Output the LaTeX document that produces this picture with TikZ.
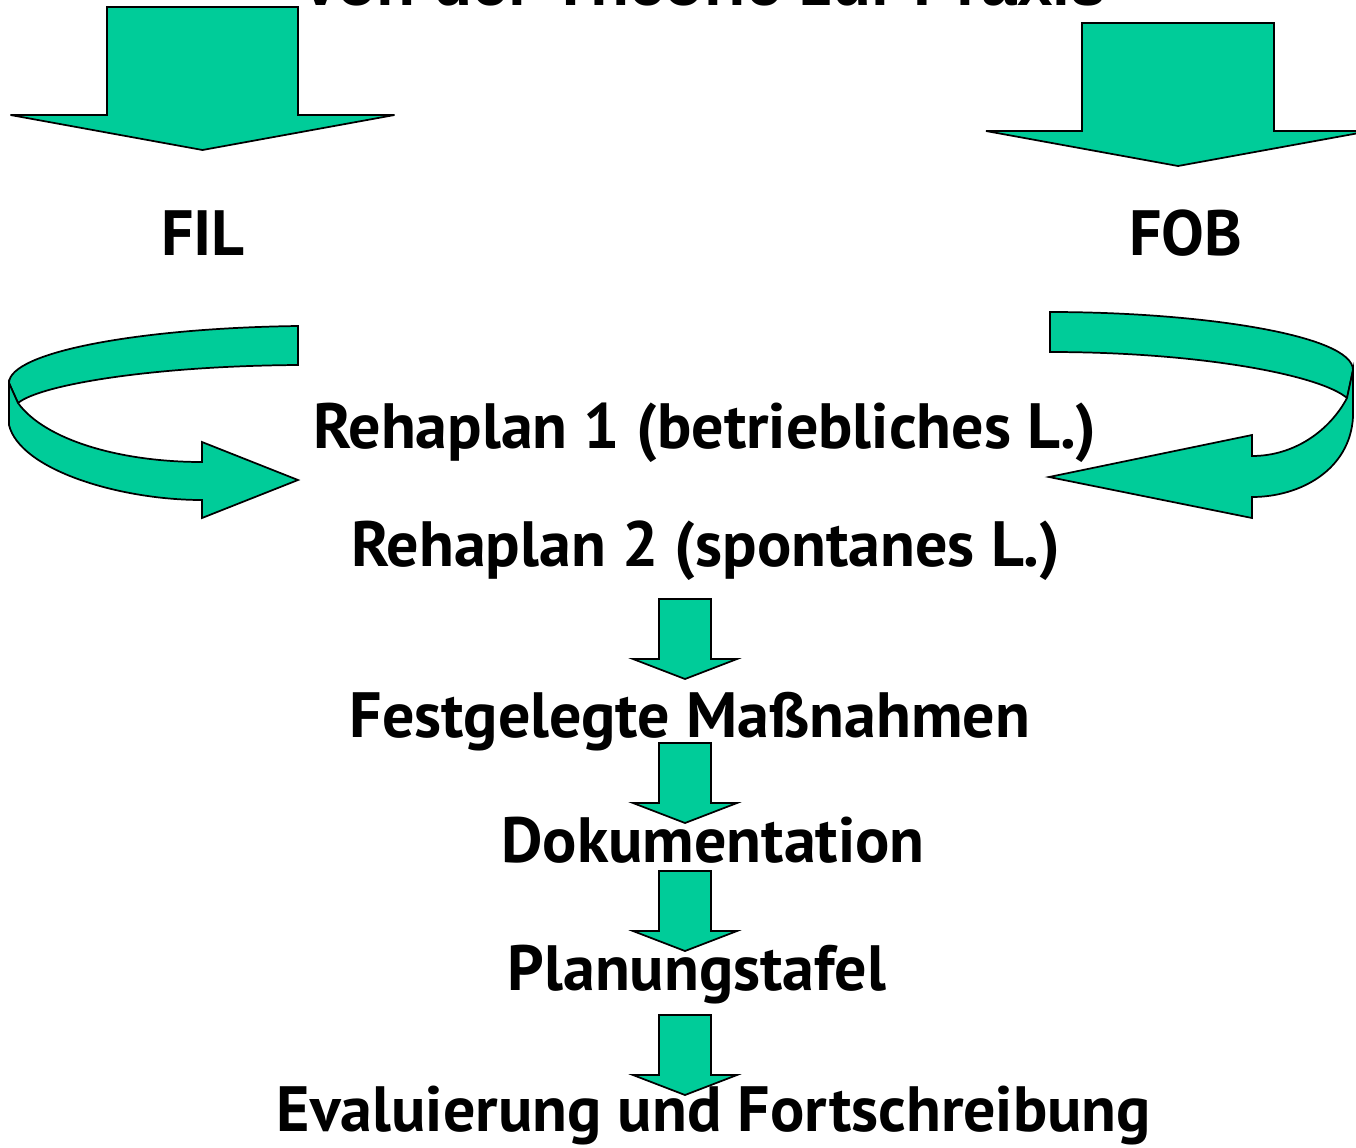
\documentclass[tikz,border=0pt]{standalone}
\usepackage{xcolor}
\usepackage{fontspec}
\setmainfont{PT Sans}
\newfontfamily\titlefont{Liberation Sans}
\usepackage{tikz}
\usetikzlibrary{positioning}

\definecolor{mint}{RGB}{0,204,153}

% block arrow: centre x, top y, shaft half width, head y, head half width, tip y
\newcommand{\fatarrow}[6]{%
  \draw[shapebox] (#1-#3,#2) -- (#1+#3,#2) -- (#1+#3,#4) -- (#1+#5,#4)
    -- (#1,#6) -- (#1-#5,#4) -- (#1-#3,#4) -- cycle;}

\begin{document}
\begin{tikzpicture}[x=0.75pt, y=-0.75pt,
    shapebox/.style={draw=black, fill=mint, line width=1.3pt, line join=miter},
    label/.style={font=\fontsize{48}{50}\selectfont\bfseries, anchor=base, inner sep=0pt}]

    \useasboundingbox (0,0) rectangle (1356,1147);

    % texts
    \node[label, font=\fontsize{48}{50}\selectfont\titlefont\bfseries] (title) at (703,5) {Von der Theorie zur Praxis};
    \node[label] (fil) at (203,255) {FIL};
    \node[label] (fob) at (1186,255) {FOB};
    \node[label] (plan1) at (705,448) {Rehaplan 1 (betriebliches L.)};
    \node[label] (plan2) at (706,566) {Rehaplan 2 (spontanes L.)};
    \node[label] (measures) at (690,737) {Festgelegte Maßnahmen};
    \node[label] (docu) at (713,862) {Dokumentation};
    \node[label] (board) at (697,990) {Planungstafel};
    \node[label] (evaluation) at (714,1131) {Evaluierung und Fortschreibung};

    % big arrows
    \fatarrow{202.5}{7}{95.5}{115}{192}{150}
    \fatarrow{1178}{23}{96}{131}{192}{166}

    % small arrows
    \foreach \ytop in {599,743,871,1015}{
        \fatarrow{685}{\ytop}{26}{\ytop+60}{52}{\ytop+80}
    }

    % left curved arrow
    \draw[shapebox] (298,326) .. controls (140,328) and (9,352) .. (9,383)
        -- (18,403) .. controls (40,385) and (150,366) .. (298,365) -- cycle;
    \draw[shapebox] (9,383) -- (9,425) .. controls (20,470) and (120,500) .. (202,500)
        -- (202,518) -- (298,480) -- (202,442) -- (202,462)
        .. controls (120,462) and (45,440) .. (18,403) -- cycle;

    % right curved arrow
    \draw[shapebox] (1050,312) .. controls (1200,312) and (1353,335) .. (1353,370)
        -- (1347,398) .. controls (1320,375) and (1200,352) .. (1050,352) -- cycle;
    \draw[shapebox] (1353,370) -- (1353,417) .. controls (1350,470) and (1300,497) .. (1252,497)
        -- (1252,518) -- (1049,477) -- (1252,435) -- (1252,456)
        .. controls (1295,456) and (1330,430) .. (1347,398) -- cycle;

\end{tikzpicture}
\end{document}
